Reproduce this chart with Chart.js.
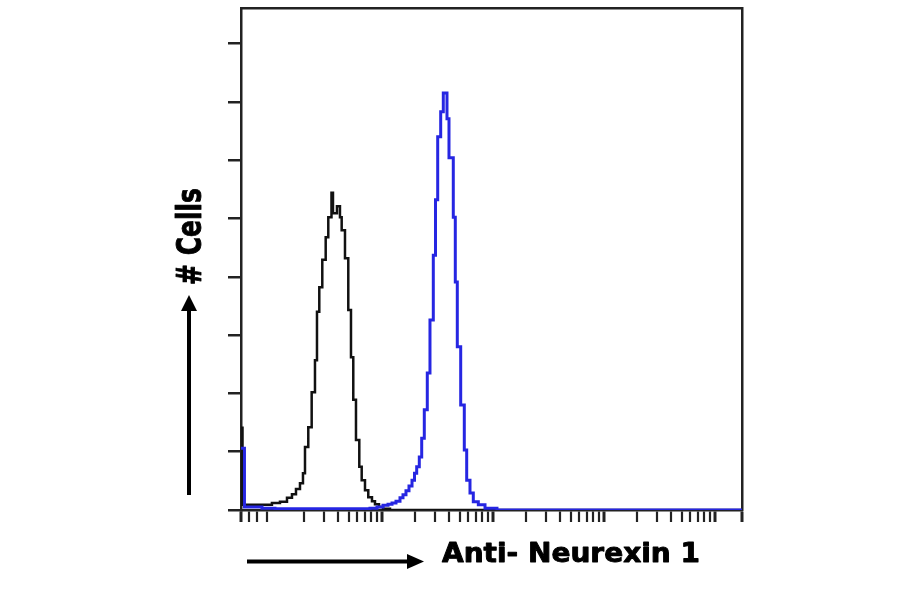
<!DOCTYPE html>
<html>
<head>
<meta charset="utf-8">
<script src="https://cdn.jsdelivr.net/npm/chart.js@4.4.1/dist/chart.umd.min.js"></script>
<style>
  html, body { margin: 0; padding: 0; background: #fff; }
  #wrap { width: 900px; height: 594px; position: relative; }
</style>
</head>
<body>
<div id="wrap"><canvas id="c"></canvas></div>
<script>
// histogram bins: left edge of each bin (log fluorescence) and event count
const blackEdges = [0.537, 0.554, 1.02, 1.205, 1.394, 1.546, 1.68, 1.825, 1.942, 2.025, 2.168, 2.326,
  2.491, 2.597, 2.724, 2.899, 3.111, 3.283, 3.508, 3.619, 3.931, 4.183, 4.334, 4.642, 4.971, 5.257,
  5.513, 5.831, 6.246, 6.565, 7.029, 7.526, 8.126, 8.648, 9.397, 10.21, 11.81, 17500];
const blackCounts = [141, 9, 12, 14, 21, 27, 36, 46, 63, 108, 142, 202,
  257, 340, 382, 429, 468, 502, 544, 509, 521, 502, 480, 432, 343, 262,
  189, 120, 74, 51, 34, 22, 15, 10, 5, 2, 0, 0];

const blueEdges = [0.537, 0.577, 0.83, 1.087, 7.796, 9.016, 10.21, 11.33, 12.31, 13.37, 14.53, 15.46,
  16.45, 17.51, 18.64, 19.63, 20.54, 21.68, 22.79, 24.05, 25.59, 27.06, 28.99, 30.34, 31.76, 33.79,
  35.67, 38.51, 40.14, 43.88, 45.75, 47.69, 51.17, 55.14, 57.95, 62.05, 66.46, 73.73, 84.73, 108.6, 17500];
const blueCounts = [106, 5, 3, 2, 3, 5, 8, 10, 12, 15, 21, 26,
  33, 41, 51, 63, 74, 91, 123, 172, 235, 326, 437, 532, 640, 683,
  715, 671, 604, 502, 391, 280, 180, 103, 51, 29, 14, 9, 3, 0, 0];

// axes
const xMin = 0.537;
const xMax = 17500;
const xTickValues = [0.537, 0.64, 0.75, 0.915, 2, 3, 4, 5, 6, 7, 8, 9,
  10, 20, 30, 40, 50, 60, 70, 80, 90,
  100, 200, 300, 400, 500, 600, 700, 800, 900,
  1000, 2000, 3000, 4000, 5000, 6000, 7000, 8000, 9000, 10000, 17500];
const xMajorTicks = [0.537, 10, 100, 1000, 10000, 17500];
const yMax = 861;
const yStep = 100;

const yTitle = '# Cells';
const xTitle = 'Anti- Neurexin 1';

function toPoints(xs, ys) {
  return xs.map((x, i) => ({ x: x, y: ys[i] }));
}

// bold label squeezed/stretched to a given length
function drawFitted(ctx, text, x, y, width, size, angle) {
  ctx.save();
  ctx.translate(x, y);
  ctx.rotate(angle);
  ctx.font = 'bold ' + size + 'px "DejaVu Sans"';
  const w = ctx.measureText(text).width;
  ctx.scale(width / w, 1);
  ctx.textAlign = 'left';
  ctx.textBaseline = 'alphabetic';
  ctx.lineWidth = 0.9;
  ctx.lineJoin = 'round';
  ctx.fillText(text, 0, 0);
  ctx.strokeText(text, 0, 0);  // a bit heavier, like the original
  ctx.restore();
}

const annotations = {
  id: 'annotations',
  afterDraw(chart) {
    const ctx = chart.ctx;
    ctx.save();
    ctx.fillStyle = '#000';
    ctx.strokeStyle = '#000';
    ctx.lineWidth = 4;

    // x arrow
    ctx.beginPath();
    ctx.moveTo(247, 561.5);
    ctx.lineTo(410, 561.5);
    ctx.stroke();
    ctx.beginPath();
    ctx.moveTo(407, 554);
    ctx.lineTo(424, 561.5);
    ctx.lineTo(407, 569);
    ctx.closePath();
    ctx.fill();

    // y arrow
    ctx.beginPath();
    ctx.moveTo(189, 495);
    ctx.lineTo(189, 309);
    ctx.stroke();
    ctx.beginPath();
    ctx.moveTo(181, 311);
    ctx.lineTo(189, 295);
    ctx.lineTo(197, 311);
    ctx.closePath();
    ctx.fill();

    drawFitted(ctx, xTitle, 442, 562, 258, 26, 0);
    drawFitted(ctx, yTitle, 201, 285, 97, 34, -Math.PI / 2);
    ctx.restore();
  }
};

const blank = { display: false };

new Chart(document.getElementById('c'), {
  type: 'line',
  data: {
    datasets: [
      {
        label: 'Neurexin 1',
        data: toPoints(blueEdges, blueCounts),
        borderColor: '#2626e2',
        borderWidth: 3,
        stepped: true,
        pointRadius: 0,
        fill: false,
        order: 0
      },
      {
        label: 'Control',
        data: toPoints(blackEdges, blackCounts),
        borderColor: '#111',
        borderWidth: 2.5,
        stepped: true,
        pointRadius: 0,
        fill: false,
        order: 1
      }
    ]
  },
  options: {
    responsive: true,
    maintainAspectRatio: false,
    animation: false,
    layout: { padding: { top: 8, right: 158, left: 0, bottom: 0 } },
    plugins: { legend: blank, tooltip: { enabled: false } },
    scales: {
      x: {
        type: 'logarithmic',
        position: 'bottom',
        min: xMin,
        max: xMax,
        afterBuildTicks: (scale) => { scale.ticks = xTickValues.map(v => ({ value: v })); },
        afterFit: (scale) => { scale.height = 84; },
        ticks: { display: false, autoSkip: false },
        grid: {
          drawOnChartArea: false,
          drawTicks: true,
          tickLength: 12,
          color: '#222',
          lineWidth: 2,
          tickWidth: (c) => (c.tick && xMajorTicks.includes(c.tick.value) ? 3 : 2.2)
        },
        border: { display: true, color: '#222', width: 2.5 }
      },
      y: {
        type: 'linear',
        position: 'left',
        min: 0,
        max: yMax,
        afterFit: (scale) => { scale.width = 241; },
        ticks: { display: false, stepSize: yStep, includeBounds: false },
        grid: { drawOnChartArea: false, drawTicks: true, tickLength: 13, color: '#222', lineWidth: 2.5 },
        border: { display: true, color: '#222', width: 2.5 }
      },
      xTop: {
        type: 'linear',
        position: 'top',
        afterFit: (scale) => { scale.height = 0; },
        ticks: blank,
        grid: blank,
        border: { display: true, color: '#222', width: 2.5 }
      },
      yRight: {
        type: 'linear',
        position: 'right',
        afterFit: (scale) => { scale.width = 0; },
        ticks: blank,
        grid: blank,
        border: { display: true, color: '#222', width: 2.5 }
      }
    }
  },
  plugins: [annotations]
});
</script>
</body>
</html>
